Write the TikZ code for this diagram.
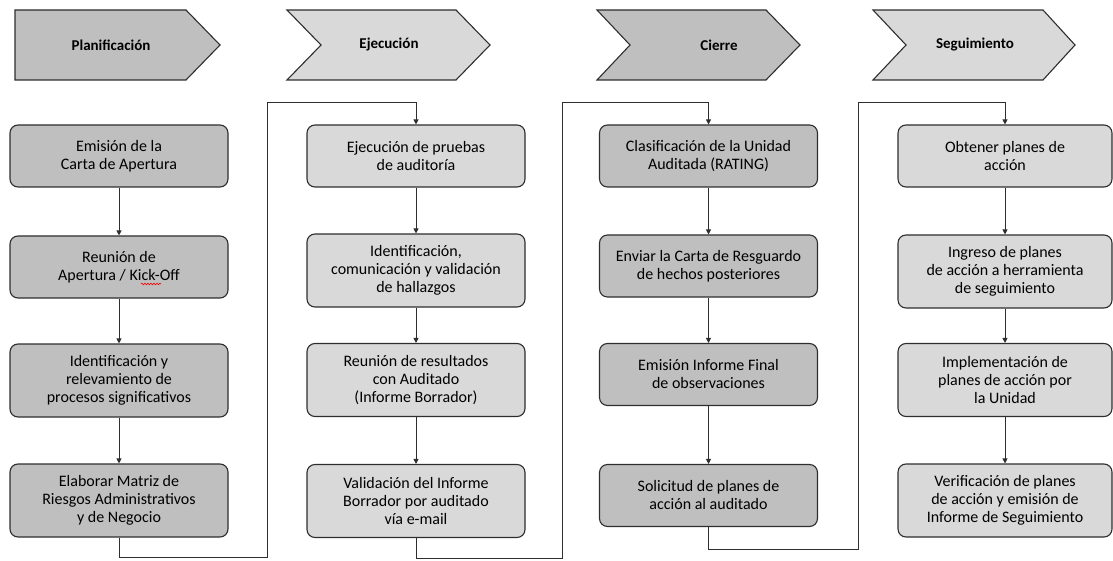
\documentclass[tikz,border=0pt]{standalone}
\usepackage{fontspec}
\setmainfont{Carlito}
\usetikzlibrary{arrows.meta,decorations.pathmorphing}

\definecolor{darkfill}{HTML}{BFBFBF}
\definecolor{lightfill}{HTML}{D9D9D9}
\definecolor{edge}{HTML}{2E2E2E}

\tikzset{
  box/.style={draw=edge, line width=1.1pt, rounded corners=8pt,
    minimum width=218pt, minimum height=62pt, inner sep=2pt,
    align=center, font=\fontsize{16}{18}\selectfont},
  darkbox/.style={box, fill=darkfill},
  lightbox/.style={box, fill=lightfill},
  tall/.style={minimum height=73pt},
  link/.style={draw=edge, line width=0.9pt, -{Triangle[length=5pt,width=5pt]}},
  chevron/.style={draw=edge, line width=1.1pt},
  head/.style={font=\fontsize{15}{18}\selectfont\bfseries},
  spell/.style={draw=red, line width=0.6pt, decorate,
    decoration={snake, amplitude=0.8pt, segment length=3pt}},
}

\begin{document}
\begin{tikzpicture}[x=1pt, y=-1pt]
  \useasboundingbox (0,0) rectangle (1113,561);

  % phases
  \draw[chevron, fill=darkfill] (15,10) -- (186,10) -- (220,45) -- (186,80) -- (15,80) -- cycle;
  \draw[chevron, fill=lightfill] (287,10) -- (456,10) -- (490,45) -- (456,80) -- (287,80) -- (321,45) -- cycle;
  \draw[chevron, fill=darkfill] (597,10) -- (766,10) -- (800,45) -- (766,80) -- (597,80) -- (630,45) -- cycle;
  \draw[chevron, fill=lightfill] (873,10) -- (1043,10) -- (1075,45) -- (1043,80) -- (873,80) -- (906,45) -- cycle;

  \node (h1) [head] at (111,45) {Planificación};
  \node (h2) [head] at (389,45) {Ejecución};
  \node (h3) [head] at (719,45) {Cierre};
  \node (h4) [head] at (975,45) {Seguimiento};

  % planificacion
  \node (11) [darkbox] at (119,156) {Emisión de la\\Carta de Apertura};
  \node (12) [darkbox] at (119,267) {Reunión de\\Apertura / Kick-Off};
  \node (13) [darkbox, tall] at (119,380.5) {Identificación y\\relevamiento de\\procesos significativos};
  \node (14) [darkbox, tall] at (119,500.5) {Elaborar Matriz de\\Riesgos Administrativos\\y de Negocio};

  % ejecucion
  \node (21) [lightbox] at (416,156) {Ejecución de pruebas\\de auditoría};
  \node (22) [lightbox, tall] at (416,270.5) {Identificación,\\comunicación y validación\\de hallazgos};
  \node (23) [lightbox, tall] at (416,380) {Reunión de resultados\\con Auditado\\(Informe Borrador)};
  \node (24) [lightbox, tall] at (416,501) {Validación del Informe\\Borrador por auditado\\vía e-mail};

  % cierre
  \node (31) [darkbox] at (708.5,156) {Clasificación de la Unidad\\Auditada (RATING)};
  \node (32) [darkbox] at (708.5,266) {Enviar la Carta de Resguardo\\de hechos posteriores};
  \node (33) [darkbox] at (708.5,374.5) {Emisión Informe Final\\de observaciones};
  \node (34) [darkbox] at (708.5,495.5) {Solicitud de planes de\\acción al auditado};

  % seguimiento
  \node (41) [lightbox, minimum width=214pt] at (1005,156) {Obtener planes de\\acción};
  \node (42) [lightbox, tall, minimum width=214pt] at (1005,271.5) {Ingreso de planes\\de acción a herramienta\\de seguimiento};
  \node (43) [lightbox, tall, minimum width=214pt] at (1005,380) {Implementación de\\planes de acción por\\la Unidad};
  \node (44) [lightbox, tall, minimum width=214pt] at (1005,500.5) {Verificación de planes\\de acción y emisión de\\Informe de Seguimiento};

  \draw[spell] (12.center) ++(22,17) -- ++(20,0);

  \draw[link] (11) -- (12);
  \draw[link] (12) -- (13);
  \draw[link] (13) -- (14);
  \draw[link] (21) -- (22);
  \draw[link] (22) -- (23);
  \draw[link] (23) -- (24);
  \draw[link] (31) -- (32);
  \draw[link] (32) -- (33);
  \draw[link] (33) -- (34);
  \draw[link] (41) -- (42);
  \draw[link] (42) -- (43);
  \draw[link] (43) -- (44);

  % from one phase to the next
  \coordinate (b1) at (267,102);
  \coordinate (b2) at (562,102);
  \coordinate (b3) at (858,102);
  \draw[link] (14.south) -- ++(0,20) -| (b1) -| (21.north);
  \draw[link] (24.south) -- ++(0,20) -| (b2) -| (31.north);
  \draw[link] (34.south) -- ++(0,22) -| (b3) -| (41.north);
\end{tikzpicture}
\end{document}
